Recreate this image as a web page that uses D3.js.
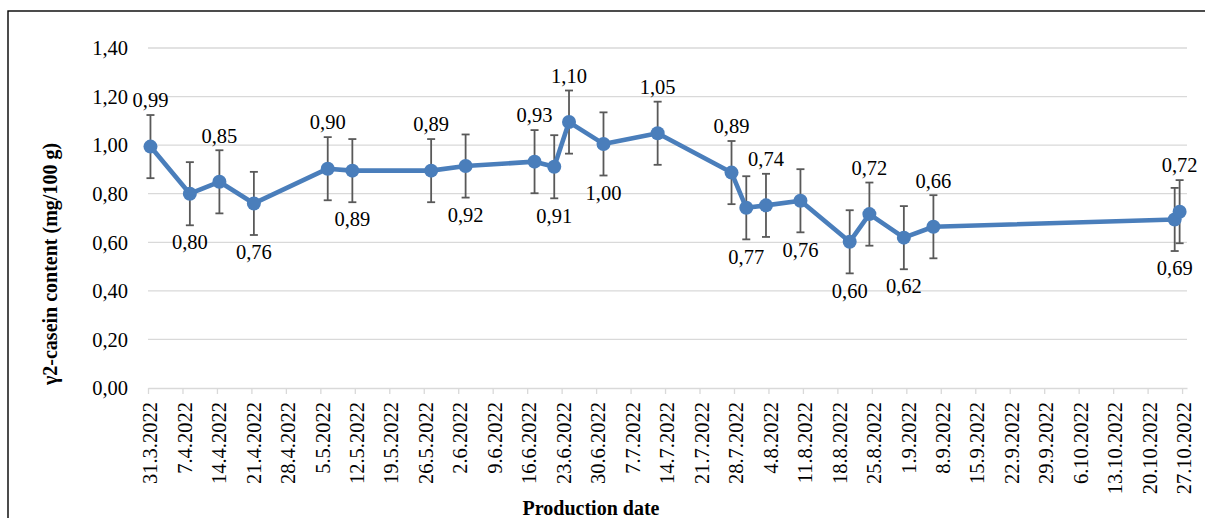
<!DOCTYPE html>
<meta charset="utf-8">
<style>
body { margin: 0; background: #fff; }
svg text { font-family: "Liberation Serif", "Times New Roman", serif; fill: #000; }
.grid line { stroke: #d9d9d9; stroke-width: 1.3px; }
.errBar { stroke: #595959; stroke-width: 1.8px; fill: none; }
.valueLine { fill: none; stroke: #4a7ebb; stroke-width: 4.6px; stroke-linejoin: round; }
.dot { fill: #4a7ebb; }
.lbl { font-size: 20.5px; }
.axisTitle { font-size: 20px; font-weight: bold; }
</style>
<div id="THE_CONTAINER"></div>
<script src="https://cdn.jsdelivr.net/npm/d3@7"></script>
<script>

// production dates, γ2-casein content and the error bar half-widths
const dates = ["31.3.2022", "8.4.2022", "14.4.2022", "21.4.2022", "6.5.2022", "11.5.2022",
    "27.5.2022", "3.6.2022", "17.6.2022", "21.6.2022", "24.6.2022", "1.7.2022", "12.7.2022",
    "27.7.2022", "30.7.2022", "3.8.2022", "10.8.2022", "20.8.2022", "24.8.2022", "31.8.2022",
    "6.9.2022", "25.10.2022", "26.10.2022"];
const values = [0.994, 0.800, 0.849, 0.760, 0.903, 0.895, 0.895, 0.914, 0.932, 0.911, 1.095,
    1.005, 1.049, 0.887, 0.742, 0.752, 0.771, 0.602, 0.716, 0.619, 0.664, 0.694, 0.726];
const errors = [0.13, 0.13, 0.13, 0.13, 0.13, 0.13, 0.13, 0.13, 0.13, 0.13, 0.13,
    0.13, 0.13, 0.13, 0.13, 0.13, 0.13, 0.13, 0.13, 0.13, 0.13, 0.13, 0.13];
const labels = ["0,99", "0,80", "0,85", "0,76", "0,90", "0,89", "0,89", "0,92", "0,93", "0,91", "1,10",
    "1,00", "1,05", "0,89", "0,77", "0,74", "0,76", "0,60", "0,72", "0,62", "0,66", "0,69", "0,72"];
const labelSide = ["above", "below", "above", "below", "above", "below", "above", "below", "above",
    "below", "above", "below", "above", "above", "below", "above", "below", "below", "above",
    "below", "above", "below", "above"];
const yTicks = [0, 0.2, 0.4, 0.6, 0.8, 1.0, 1.2, 1.4];
const xStart = "31.3.2022", xEnd = "28.10.2022";

const W = 1205, H = 518;
const plotL = 148, plotR = 1187, plotT = 48, plotB = 388;

const parse = d3.utcParse("%d.%m.%Y");
const fmtDate = d3.utcFormat("%-d.%-m.%Y");
const fmtVal = d => d3.format(".2f")(d).replace(".", ",");

const rows = dates.map((d, i) => ({
    date: parse(d), value: values[i], err: errors[i], label: labels[i], side: labelSide[i]
}));

const svg = d3.select("#THE_CONTAINER").append("svg")
    .attr("width", W).attr("height", H);

// outer frame (right/bottom edges fall outside the picture)
svg.append("rect")
    .attr("x", 8).attr("y", 11).attr("width", W + 10).attr("height", H + 10)
    .attr("fill", "none").attr("stroke", "#000").attr("stroke-width", 1.4);

const x = d3.scaleUtc().domain([parse(xStart), parse(xEnd)]).range([plotL, plotR]);
const y = d3.scaleLinear().domain([0, 1.4]).range([plotB, plotT]);
// Excel plots a date in the middle of its day
const xMid = d => x(d3.utcHour.offset(d, 12));

// gridlines
svg.append("g").attr("class", "grid")
    .selectAll("line").data(yTicks.filter(t => t > 0)).enter().append("line")
    .attr("x1", plotL).attr("x2", plotR)
    .attr("y1", d => y(d)).attr("y2", d => y(d));

// y axis labels
const yAxis = svg.append("g")
    .attr("transform", `translate(${plotL},0)`)
    .call(d3.axisLeft(y).tickValues(yTicks).tickFormat(fmtVal).tickSize(0).tickPadding(20));
yAxis.attr("font-size", null).attr("font-family", null);
yAxis.select(".domain").remove();
yAxis.selectAll("text")
    .attr("class", "lbl")
    .attr("dy", "0.33em");

// x axis
const xTicks = d3.utcDay.range(parse(xStart), parse(xEnd), 7);
const xAxis = svg.append("g")
    .attr("transform", `translate(0,${plotB})`)
    .call(d3.axisBottom(x).tickValues(xTicks).tickFormat(fmtDate).tickSize(6).tickSizeOuter(0));
xAxis.attr("font-size", null).attr("font-family", null);
xAxis.select(".domain").attr("stroke", "#d9d9d9").attr("stroke-width", 1.3);
xAxis.selectAll(".tick line").attr("stroke", "#d9d9d9").attr("stroke-width", 1.3);
xAxis.selectAll(".tick text")
    .attr("class", "lbl")
    .attr("y", null).attr("dy", null)
    .attr("text-anchor", "end")
    .attr("transform", "translate(8.7,14) rotate(-90)");

// error bars
const eb = svg.append("g").selectAll("g").data(rows).enter().append("g").attr("class", "errBar");
eb.append("line")
    .attr("x1", d => xMid(d.date)).attr("x2", d => xMid(d.date))
    .attr("y1", d => y(d.value + d.err)).attr("y2", d => y(d.value - d.err));
eb.append("line")
    .attr("x1", d => xMid(d.date) - 4).attr("x2", d => xMid(d.date) + 4)
    .attr("y1", d => y(d.value + d.err)).attr("y2", d => y(d.value + d.err));
eb.append("line")
    .attr("x1", d => xMid(d.date) - 4).attr("x2", d => xMid(d.date) + 4)
    .attr("y1", d => y(d.value - d.err)).attr("y2", d => y(d.value - d.err));

// line and markers
svg.append("path").datum(rows).attr("class", "valueLine")
    .attr("d", d3.line().x(d => xMid(d.date)).y(d => y(d.value)));
svg.append("g").selectAll("circle").data(rows).enter().append("circle")
    .attr("class", "dot")
    .attr("cx", d => xMid(d.date)).attr("cy", d => y(d.value)).attr("r", 7);

// data labels
svg.append("g").selectAll("text").data(rows).enter().append("text")
    .attr("class", "lbl")
    .attr("text-anchor", "middle")
    .attr("x", d => xMid(d.date))
    .attr("y", d => y(d.value) + (d.side === "above" ? -46 : 49))
    .attr("dy", "0.33em")
    .text(d => d.label);

// axis titles
svg.append("text").attr("class", "axisTitle")
    .attr("text-anchor", "middle")
    .attr("transform", "translate(57,264) rotate(-90)")
    .text("γ2-casein content (mg/100 g)");
svg.append("text").attr("class", "axisTitle")
    .attr("text-anchor", "middle")
    .attr("x", 591).attr("y", 515)
    .text("Production date");

</script>
